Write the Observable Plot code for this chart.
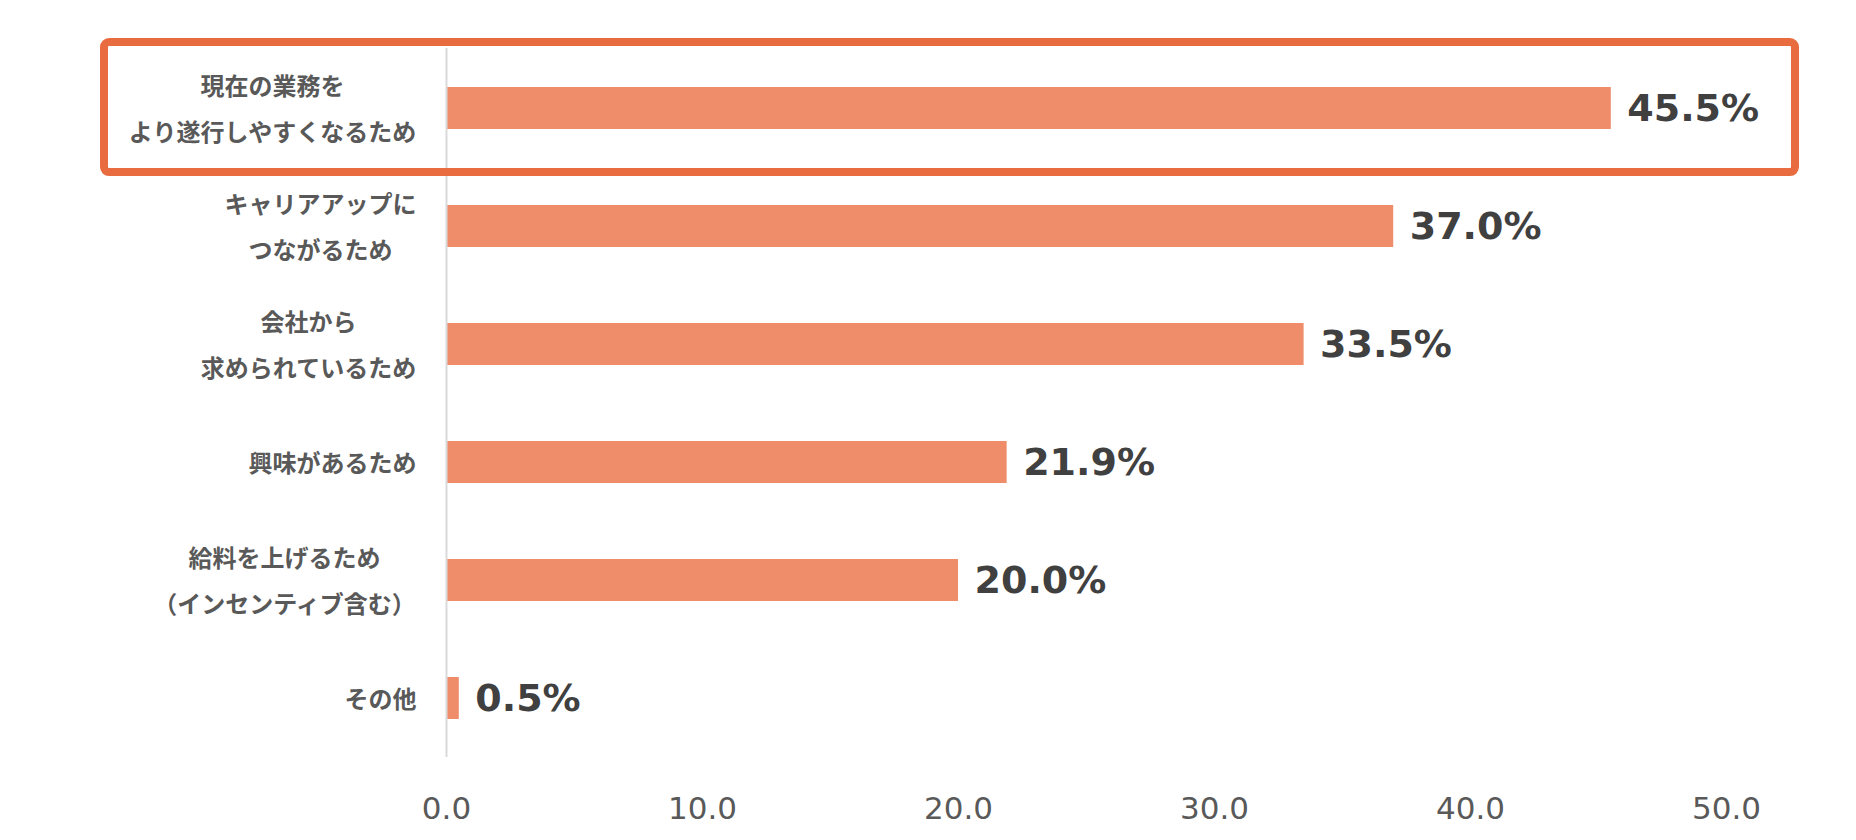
<!DOCTYPE html>
<html>
<head>
<meta charset="utf-8">
<script src="https://cdn.jsdelivr.net/npm/d3@7"></script>
<script src="https://cdn.jsdelivr.net/npm/@observablehq/plot@0.6"></script>
<style>
  html, body { margin: 0; padding: 0; background: #ffffff; }
  #chart svg { display: block; }
</style>
</head>
<body>
<div id="chart"></div>
<script>
const categories = [
  "現在の業務を\nより遂行しやすくなるため",
  "キャリアアップに\nつながるため",
  "会社から\n求められているため",
  "興味があるため",
  "給料を上げるため\n（インセンティブ含む）",
  "その他"
];
const values = [45.5, 37.0, 33.5, 21.9, 20.0, 0.5];
const xTicks = [0, 10, 20, 30, 40, 50];
const highlighted = categories[0];

const data = categories.map((c, i) => ({ category: c, value: values[i] }));

const W = 1856, H = 840;
const labelFontSize = 24;
const labelFont = `bold ${labelFontSize}px 'Noto Sans CJK JP'`;
const labelGap = 30;

const ctx = document.createElement("canvas").getContext("2d");
ctx.font = labelFont;
const blockWidth = (s) => Math.max(...s.split("\n").map(l => ctx.measureText(l).width));

const labelMarks = data.map(d =>
  Plot.text([d], {
    x: 0,
    y: "category",
    text: "category",
    textAnchor: "middle",
    dx: -(labelGap + blockWidth(d.category) / 2),
    dy: -5,
    lineHeight: 1.9,
    fontSize: labelFontSize,
    fontWeight: "bold",
    fontFamily: "'Noto Sans CJK JP', 'Noto Sans CJK SC', sans-serif",
    fill: "#595959"
  })
);

const chart = Plot.plot({
  width: W,
  height: H,
  marginLeft: 446,
  marginRight: 130,
  marginTop: 48,
  marginBottom: 83,
  style: { background: "#ffffff", overflow: "visible" },
  x: { domain: [0, 50], ticks: xTicks },
  y: { domain: categories, paddingInner: 0.647, paddingOuter: 0.3235 },
  marks: [
    Plot.barX(data, { x: "value", y: "category", fill: "#EF8C6A" }),
    Plot.ruleX([0], { stroke: "#D9D9D9", strokeWidth: 2 }),
    Plot.text(data, {
      x: "value",
      y: "category",
      text: d => d.value.toFixed(1) + "%",
      textAnchor: "start",
      dx: 16,
      fontSize: 38,
      fontWeight: "bold",
      fontFamily: "'DejaVu Sans', sans-serif",
      fill: "#404040"
    }),
    ...labelMarks,
    Plot.axisX({
      ticks: xTicks,
      tickFormat: d => d.toFixed(1),
      tickSize: 0,
      tickPadding: 39,
      fontSize: 31,
      fontFamily: "'DejaVu Sans', sans-serif",
      fill: "#595959",
      label: null
    }),
    Plot.axisY({ ticks: [], label: null, tickSize: 0 })
  ]
});

// Highlight frame around the first category, positioned from the y scale
const ys = chart.scale("y");
const domain = ys.domain;
const [r0, r1] = ys.range;
const n = domain.length;
const pi = ys.paddingInner ?? 0.647, po = ys.paddingOuter ?? 0.3235;
const step = (r1 - r0) / (n - pi + 2 * po);
const bandwidth = step * (1 - pi);
const idx = domain.indexOf(highlighted);
const cy = r0 + po * step + idx * step + bandwidth / 2;
const half = step * 0.55;
const left = 104, right = W - 61;
d3.select(chart).append("rect")
  .attr("x", left)
  .attr("y", cy - half)
  .attr("width", right - left)
  .attr("height", 2 * half)
  .attr("rx", 5)
  .attr("fill", "none")
  .attr("stroke", "#E96C40")
  .attr("stroke-width", 8);

document.getElementById("chart").appendChild(chart);
</script>
</body>
</html>
